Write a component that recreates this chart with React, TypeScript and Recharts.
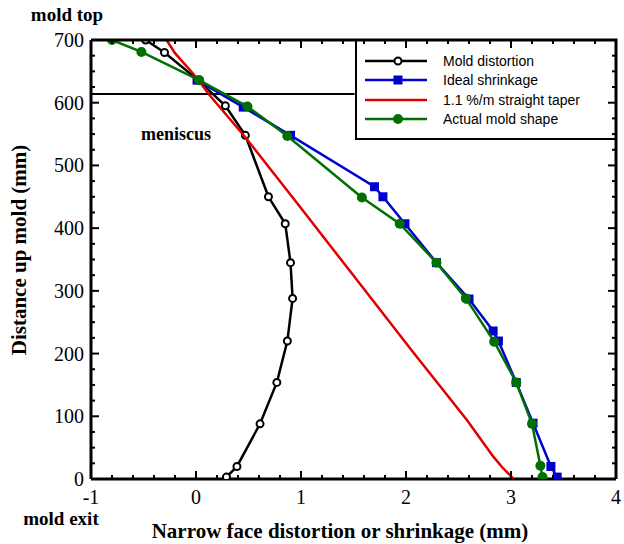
import React from 'react';
import { ComposedChart, Scatter, XAxis, YAxis, ReferenceLine, Legend } from 'recharts';

// distance up the mold (mm) for each measured point, x = narrow face offset (mm)
const distortionX = [-0.48, -0.3, 0.02, 0.28, 0.47, 0.69, 0.85, 0.9, 0.92, 0.87, 0.77, 0.61, 0.39, 0.29];
const distortionY = [700, 680, 636, 595, 548, 450, 407, 345, 288, 220, 154, 88, 20, 3];

const idealX = [0.01, 0.45, 0.9, 1.7, 1.78, 1.99, 2.29, 2.6, 2.83, 2.88, 3.05, 3.21, 3.38, 3.44];
const idealY = [636, 593, 548, 466, 450, 407, 345, 287, 236, 220, 154, 89, 20, 3];

const taperX = [-0.28, -0.2, 0.0, 0.13, 0.47, 0.99, 1.52, 2.04, 2.58, 2.83, 2.92, 3.02];
const taperY = [700, 679, 641, 612, 545, 434, 320, 208, 94, 36, 18, 1];

const actualX = [-0.8, -0.52, 0.03, 0.49, 0.87, 1.58, 1.94, 2.29, 2.57, 2.84, 3.05, 3.2, 3.28, 3.3];
const actualY = [700, 681, 636, 594, 547, 449, 407, 345, 288, 219, 154, 88, 21, 3];

const meniscusLevel = 614;
const legendEdgeX = 1.51;

const X_MIN = -1;
const X_MAX = 4;
const Y_MIN = 0;
const Y_MAX = 700;
const xTicks = Array.from({ length: 26 }, (_, i) => +(-1 + i * 0.2).toFixed(1));
const yTicks = Array.from({ length: 29 }, (_, i) => i * 25);

const zip = (xs: number[], ys: number[]) => xs.map((x, i) => ({ x, y: ys[i] }));

const SERIF = '"Liberation Serif", "Times New Roman", serif';
const SANS = '"Liberation Sans", Arial, sans-serif';

const BLACK = '#000000';
const BLUE = '#0000d0';
const RED = '#e00000';
const GREEN = '#007000';

// chart box
const W = 624;
const H = 544;
const MARGIN = { top: 40, right: 8, bottom: 5, left: 0 };
const X_AXIS_H = 60;
const Y_AXIS_W = 91;
const PLOT = {
  left: MARGIN.left + Y_AXIS_W,
  right: W - MARGIN.right,
  top: MARGIN.top,
  bottom: H - MARGIN.bottom - X_AXIS_H,
};
const toPx = (v: number) => PLOT.left + ((v - X_MIN) / (X_MAX - X_MIN)) * (PLOT.right - PLOT.left);
const toPy = (v: number) => PLOT.bottom - ((v - Y_MIN) / (Y_MAX - Y_MIN)) * (PLOT.bottom - PLOT.top);

const OpenCircle = ({ cx, cy }: any) => (
  <circle cx={cx} cy={cy} r={3.5} fill="#fff" stroke={BLACK} strokeWidth={2} />
);
const Square = ({ cx, cy }: any) => <rect x={cx - 4.5} y={cy - 4.5} width={9} height={9} fill={BLUE} />;
const Dot = ({ cx, cy }: any) => <circle cx={cx} cy={cy} r={5} fill={GREEN} />;
const NoMark = () => <g />;

const series = [
  { name: 'Mold distortion', color: BLACK, data: zip(distortionX, distortionY), shape: OpenCircle },
  { name: 'Ideal shrinkage', color: BLUE, data: zip(idealX, idealY), shape: Square },
  { name: '1.1 %/m straight taper', color: RED, data: zip(taperX, taperY), shape: NoMark },
  { name: 'Actual mold shape', color: GREEN, data: zip(actualX, actualY), shape: Dot },
];

const near = (v: number, step: number) => Math.abs(v / step - Math.round(v / step)) < 1e-6;

const BottomTick = ({ x, y, payload }: any) =>
  near(payload.value, 1) ? (
    <text x={x} y={y + 25} textAnchor="middle" fontFamily={SERIF} fontSize={20} fill={BLACK}>
      {payload.value}
    </text>
  ) : (
    <g />
  );

const LeftTick = ({ x, y, payload }: any) =>
  near(payload.value, 100) ? (
    <text x={x - 7} y={y + 7} textAnchor="end" fontFamily={SERIF} fontSize={20} fill={BLACK}>
      {payload.value}
    </text>
  ) : (
    <g />
  );

// inward tick marks on all four sides plus the top/right edges of the frame
const Frame = () => (
  <g stroke={BLACK} strokeWidth={2}>
    {xTicks.map((v) => {
      const len = near(v, 1) ? 8 : 4;
      const px = toPx(v);
      return (
        <g key={`x${v}`}>
          <line x1={px} x2={px} y1={PLOT.bottom} y2={PLOT.bottom - len} />
          <line x1={px} x2={px} y1={PLOT.top} y2={PLOT.top + len} />
        </g>
      );
    })}
    {yTicks.map((v) => {
      const len = near(v, 100) ? 8 : 4;
      const py = toPy(v);
      return (
        <g key={`y${v}`}>
          <line x1={PLOT.left} x2={PLOT.left + len} y1={py} y2={py} />
          <line x1={PLOT.right} x2={PLOT.right - len} y1={py} y2={py} />
        </g>
      );
    })}
    <polyline
      points={`${PLOT.left},${PLOT.top} ${PLOT.right},${PLOT.top} ${PLOT.right},${PLOT.bottom}`}
      fill="none"
      strokeWidth={3}
    />
  </g>
);

const LegendBox = () => (
  <div
    style={{
      width: 261,
      height: 100,
      boxSizing: 'border-box',
      borderLeft: '2px solid #000',
      borderBottom: '2px solid #000',
      paddingTop: 11,
      fontFamily: SANS,
      fontSize: 14,
      color: '#000',
    }}
  >
    {series.map((s) => (
      <div key={s.name} style={{ display: 'flex', alignItems: 'center', height: 19.5 }}>
        <svg width={72} height={14} style={{ marginLeft: 6, flex: 'none' }}>
          <line x1={2} x2={64} y1={7} y2={7} stroke={s.color} strokeWidth={2.5} />
          <s.shape cx={35} cy={7} />
        </svg>
        <span style={{ marginLeft: 8, whiteSpace: 'nowrap' }}>{s.name}</span>
      </div>
    ))}
  </div>
);

const axisLine = { stroke: BLACK, strokeWidth: 3 };

export default function App() {
  return (
    <div style={{ position: 'absolute', left: 0, top: 0, width: W, height: H, background: '#fff' }}>
      <ComposedChart width={W} height={H} margin={MARGIN}>
        <XAxis
          type="number"
          dataKey="x"
          domain={[X_MIN, X_MAX]}
          ticks={xTicks}
          interval={0}
          allowDataOverflow
          height={X_AXIS_H}
          tickSize={0}
          tickMargin={0}
          tickLine={false}
          tick={<BottomTick />}
          axisLine={axisLine}
        />
        <YAxis
          type="number"
          dataKey="y"
          domain={[Y_MIN, Y_MAX]}
          ticks={yTicks}
          interval={0}
          allowDataOverflow
          width={Y_AXIS_W}
          tickSize={0}
          tickMargin={0}
          tickLine={false}
          tick={<LeftTick />}
          axisLine={axisLine}
        />
        <ReferenceLine
          segment={[
            { x: X_MIN, y: meniscusLevel },
            { x: legendEdgeX, y: meniscusLevel },
          ]}
          stroke={BLACK}
          strokeWidth={2}
        />
        {series.map((s) => (
          <Scatter
            key={s.name}
            name={s.name}
            data={s.data}
            fill={s.color}
            line={{ stroke: s.color, strokeWidth: 2.5 }}
            lineJointType="linear"
            shape={s.shape}
            isAnimationActive={false}
          />
        ))}
        <Legend
          layout="vertical"
          align="center"
          verticalAlign="middle"
          content={LegendBox}
          wrapperStyle={{ position: 'absolute', left: 355, top: 40, width: 261, height: 100 }}
        />
      </ComposedChart>
      <svg
        width={W}
        height={H}
        style={{ position: 'absolute', left: 0, top: 0, pointerEvents: 'none' }}
      >
        <Frame />
        <g fontFamily={SERIF} fontWeight="bold" fill={BLACK}>
          <text x={67} y={21} textAnchor="middle" fontSize={19}>mold top</text>
          <text x={61} y={525} textAnchor="middle" fontSize={19}>mold exit</text>
          <text x={176} y={140} textAnchor="middle" fontSize={18}>meniscus</text>
          <text x={340} y={538} textAnchor="middle" fontSize={21}>
            Narrow face distortion or shrinkage (mm)
          </text>
          <text x={26} y={250} textAnchor="middle" fontSize={21} transform="rotate(-90 26 250)">
            Distance up mold (mm)
          </text>
        </g>
      </svg>
    </div>
  );
}
